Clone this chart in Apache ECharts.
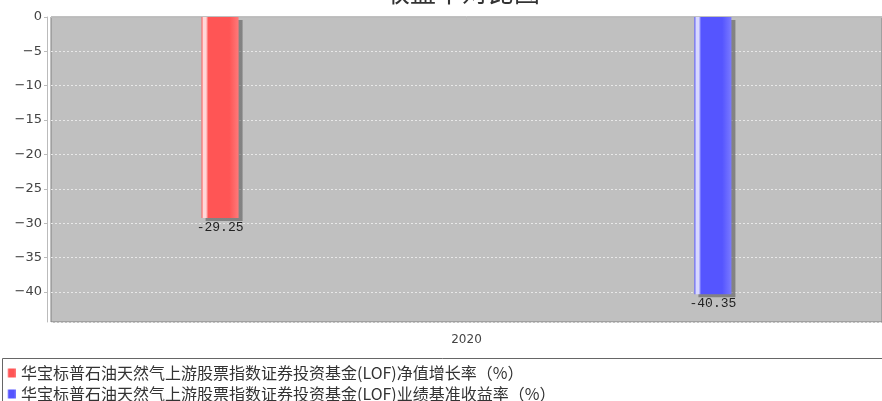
<!DOCTYPE html>
<html><head><meta charset="utf-8">
<script src="https://cdn.jsdelivr.net/npm/echarts@6/dist/echarts.min.js"></script>
<style>html,body{margin:0;padding:0;background:#fff}#c{width:882px;height:401px}</style>
</head><body><div id="c"></div>
<script>
const titleText = '收益率对比图';
const categories = ['2020'];
const seriesNames = ['华宝标普石油天然气上游股票指数证券投资基金(LOF)净值增长率（%）', '华宝标普石油天然气上游股票指数证券投资基金(LOF)业绩基准收益率（%）'];
const netGrowth = [-29.25];
const benchmark = [-40.35];
const yMin = -44.385;
const yMax = 0;

function grad(light, mid, dark) {
  return new echarts.graphic.LinearGradient(0, 0, 1, 0, [
    {offset: 0, color: mid}, {offset: 0.05, color: light}, {offset: 0.12, color: light}, {offset: 0.18, color: mid},
    {offset: 0.75, color: mid}, {offset: 1, color: dark}
  ]);
}
const chart = echarts.init(document.getElementById('c'));
const labelStyle = {show: true, position: 'bottom', distance: 3, color: '#222', fontFamily: 'Liberation Mono, DejaVu Sans Mono, monospace', fontSize: 13, formatter: p => p.value.toFixed(2)};
const legendText = {fontFamily: 'Noto Sans CJK SC', fontSize: 16, color: '#333'};
chart.setOption({
  animation: false,
  title: {text: titleText, left: 379, top: -26, textStyle: {fontSize: 26, fontWeight: 'normal', color: '#333', fontFamily: 'Noto Sans CJK SC'}},
  grid: {left: 51, width: 846, top: 17, bottom: 79, show: true, backgroundColor: '#c0c0c0', borderColor: '#808080', borderWidth: 1},
  legend: [
    {data: [seriesNames[0]], left: 2, top: 360, itemWidth: 9, itemHeight: 9, icon: 'rect', itemGap: 6, textStyle: legendText},
    {data: [seriesNames[1]], left: 2, top: 381, itemWidth: 9, itemHeight: 9, icon: 'rect', itemGap: 6, textStyle: legendText}
  ],
  graphic: [{type: 'rect', left: 0, top: 356, shape: {width: 900, height: 60}, style: {fill: 'none', stroke: '#666', lineWidth: 1}}],
  xAxis: {type: 'category', data: categories, position: 'bottom', offset: 5,
    axisLine: {lineStyle: {color: '#bbb'}}, axisTick: {show: true, alignWithLabel: true, length: 3, lineStyle: {color: '#bbb'}},
    axisLabel: {color: '#444', fontSize: 12, margin: 7, fontFamily: 'DejaVu Sans'}},
  yAxis: {type: 'value', min: yMin, max: yMax, splitNumber: 9, offset: 4,
    axisLine: {show: true, lineStyle: {color: '#bbb'}}, axisTick: {show: true, length: 3, lineStyle: {color: '#bbb'}},
    axisLabel: {color: '#444', fontSize: 13, fontFamily: 'DejaVu Sans', showMinLabel: false, margin: 5, formatter: v => String(v).replace('-', '−')},
    splitLine: {show: true, lineStyle: {color: '#e8e8e8', type: [2, 2], width: 1}}},
  series: [
    {name: seriesNames[0], type: 'bar', data: netGrowth, barWidth: 37, barGap: '1232%',
      itemStyle: {color: grad('#ffd8d8', '#ff5555', '#ff7a7a'), shadowColor: 'rgba(80,80,80,0.55)', shadowOffsetX: 4, shadowOffsetY: 3, shadowBlur: 0},
      label: labelStyle},
    {name: seriesNames[1], type: 'bar', data: benchmark, barWidth: 37,
      itemStyle: {color: grad('#d8d8ff', '#5555ff', '#7a7aff'), shadowColor: 'rgba(80,80,80,0.55)', shadowOffsetX: 4, shadowOffsetY: 3, shadowBlur: 0},
      label: labelStyle}
  ],
  color: ['#ff5555', '#5555ff']
});
</script></body></html>
